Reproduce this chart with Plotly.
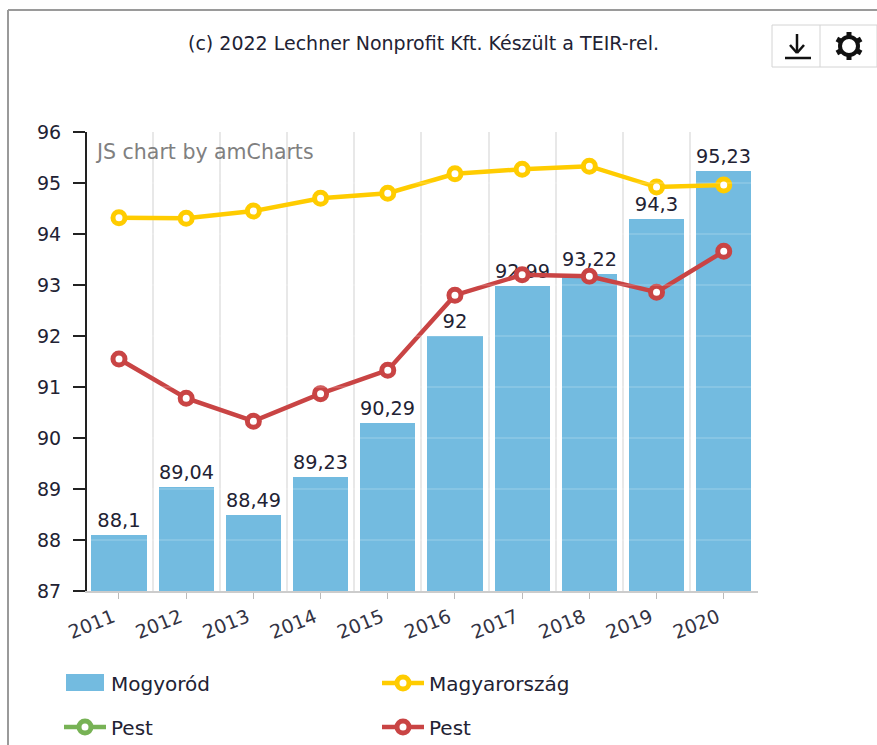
import math
import plotly.graph_objects as go

years = [2011, 2012, 2013, 2014, 2015, 2016, 2017, 2018, 2019, 2020]
mogyorod = [88.1, 89.04, 88.49, 89.23, 90.29, 92, 92.99, 93.22, 94.3, 95.23]
magyarorszag = [94.32, 94.31, 94.45, 94.7, 94.8, 95.18, 95.27, 95.33, 94.92, 94.96]
pest_red = [91.55, 90.78, 90.33, 90.87, 91.33, 92.8, 93.2, 93.17, 92.86, 93.66]
y_ticks = [87, 88, 89, 90, 91, 92, 93, 94, 95, 96]

W, H = 877, 745
L, R, T, B = 87, 758, 132, 591
BLUE, YEL, RED, GRN = "#73BBE0", "#FFCC00", "#C94444", "#77B255"
TXT = "#222233"
FONT = "DejaVu Sans"


def px(x):
    return (x - L) / (R - L)


def py(y):
    return (B - y) / (B - T)


def line(x0, y0, x1, y1, color, width):
    return dict(type="line", xref="paper", yref="paper", x0=px(x0), y0=py(y0), x1=px(x1), y1=py(y1),
                line=dict(color=color, width=width), layer="above")


fig = go.Figure()
fig.add_trace(go.Bar(x=years, y=mogyorod, name="Mogyoród", width=0.82, marker=dict(color=BLUE, line=dict(width=0)),
                     texttemplate="%{y}", textposition="outside", cliponaxis=False,
                     textfont=dict(family=FONT, size=19.5, color=TXT), legend="legend"))


def line_trace(y, name, color, legend):
    return go.Scatter(x=years if y is not None else years[:1], y=y if y is not None else [None], name=name,
                      mode="lines+markers", legend=legend, cliponaxis=False,
                      line=dict(color=color, width=4.5),
                      marker=dict(size=12, color="white", line=dict(color=color, width=5)))


# order matches the reference legend: bars, national, county (no values), county
fig.add_trace(line_trace(magyarorszag, "Magyarország", YEL, "legend2"))
fig.add_trace(line_trace(None, "Pest", GRN, "legend3"))
fig.add_trace(line_trace(pest_red, "Pest", RED, "legend4"))

shapes = []
# faint horizontal grid that only shows over the bars
for v in y_ticks[1:-1]:
    shapes.append(dict(type="line", xref="paper", yref="y", x0=0, x1=1, y0=v, y1=v,
                       line=dict(color="rgba(255,255,255,0.2)", width=1.5), layer="above"))
# outer frame
shapes.append(line(8, 10, 877, 10, "#9a9a9a", 2))
shapes.append(line(8, 10, 8, 745, "#9a9a9a", 2))
# toolbar box
shapes.append(dict(type="rect", xref="paper", yref="paper", x0=px(772), x1=px(877), y0=py(25), y1=py(67),
                   line=dict(color="#d4d4d4", width=1), fillcolor="white", layer="above"))
shapes.append(line(820, 25, 820, 67, "#d4d4d4", 1))
# download icon
shapes.append(line(797, 34, 797, 52, "#111", 2.5))
shapes.append(line(790, 45, 797, 53, "#111", 2.5))
shapes.append(line(804, 45, 797, 53, "#111", 2.5))
shapes.append(line(785, 58, 811, 58, "#111", 2.5))
# gear icon
cx, cy = 849, 46
for a in range(0, 180, 60):
    c, s = math.cos(math.radians(a + 90)), math.sin(math.radians(a + 90))
    shapes.append(line(cx - 14 * c, cy - 14 * s, cx + 14 * c, cy + 14 * s, "#111", 5))
shapes.append(dict(type="circle", xref="paper", yref="paper", x0=px(cx - 9), x1=px(cx + 9),
                   y0=py(cy - 9), y1=py(cy + 9), line=dict(color="#111", width=4), fillcolor="white", layer="above"))
# wide legend swatch behind the legend's own key
shapes.append(dict(type="rect", xref="paper", yref="paper", x0=px(66), x1=px(104), y0=py(674), y1=py(691),
                   line=dict(width=0), fillcolor=BLUE, layer="above"))


def legend_at(x, y):
    return dict(xref="container", yref="container", x=x / W, y=1 - y / H, xanchor="left", yanchor="middle",
                orientation="h", itemwidth=42, bgcolor="rgba(0,0,0,0)", borderwidth=0,
                font=dict(family=FONT, size=20, color=TXT), itemclick=False, itemdoubleclick=False)


fig.update_layout(
    width=W, height=H, margin=dict(l=L, r=W - R, t=T, b=H - B),
    paper_bgcolor="white", plot_bgcolor="white", separators=", ",
    barmode="overlay", bargap=0, showlegend=True,
    font=dict(family=FONT, color=TXT),
    xaxis=dict(range=[2010.524, 2020.51], tickmode="array", tickvals=years, ticktext=[str(v) for v in years],
               tickangle=-22, ticks="outside", ticklen=6, tickcolor="#bbbbbb", showgrid=False, zeroline=False,
               showline=True, linecolor="#cccccc", linewidth=2, ticklabelshift=-6,
               tickfont=dict(family=FONT, size=19, color="#333344"),
               minor=dict(tick0=2010.5, dtick=1, showgrid=True, gridcolor="#e8e8e8", gridwidth=2, ticks="")),
    yaxis=dict(range=[87, 96], tickmode="array", tickvals=y_ticks, ticks="outside", ticklen=12, tickwidth=2,
               tickcolor="#222222", showgrid=False, zeroline=False, showline=True, linecolor="#222222", linewidth=2,
               ticklabelstandoff=8, tickfont=dict(family=FONT, size=19, color="#222233")),
    legend=legend_at(59, 683), legend2=legend_at(377, 683),
    legend3=legend_at(59, 727), legend4=legend_at(377, 727),
    shapes=shapes,
    annotations=[
        dict(text="(c) 2022 Lechner Nonprofit Kft. Készült a TEIR-rel.", xref="paper", yref="paper",
             x=px(423), y=py(43), yanchor="middle", showarrow=False,
             font=dict(family=FONT, size=19, color="#222233")),
        dict(text="JS chart by amCharts", xref="paper", yref="paper", x=px(93), y=py(152), xanchor="left",
             yanchor="middle", showarrow=False, font=dict(family=FONT, size=20.5, color="#808080")),
    ],
)

fig.write_html("out.html", config=dict(displayModeBar=False), post_script="document.body.style.margin='0';")
